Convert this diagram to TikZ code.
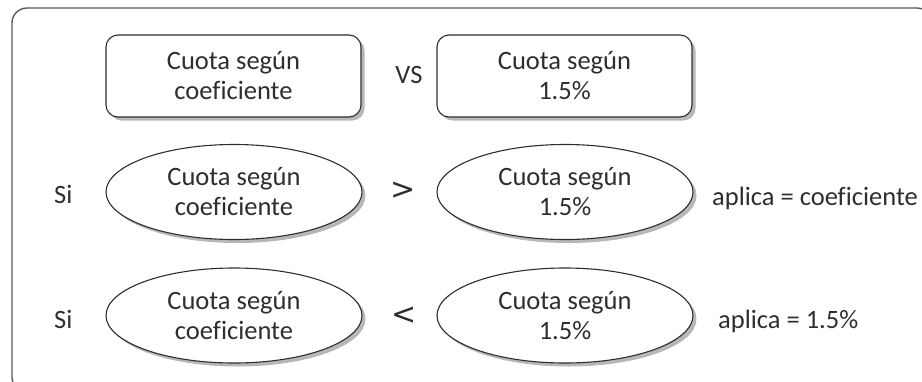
\documentclass[tikz,border=0pt]{standalone}
\usepackage{fontspec}
\setmainfont{Carlito}[Ligatures=NoCommon]
\newfontfamily\relfont{DejaVu Sans}
\usetikzlibrary{shapes.geometric,shadows}
\definecolor{ink}{HTML}{2E2E2E}
\definecolor{frame}{HTML}{5A5A5A}
\tikzset{
  x=1pt,y=-1pt,
  txt/.style={font=\fontsize{26.5}{30}\selectfont, text=ink, inner sep=0pt},
  rel/.style={font=\relfont\fontsize{30}{30}\selectfont, text=ink, inner sep=0pt},
  shad/.style={drop shadow={shadow xshift=3.5pt, shadow yshift=-3.5pt, fill=gray!80, opacity=.7}},
  rbox/.style={txt, draw=ink, line width=1.1pt, fill=white, rounded corners=12pt,
     minimum width=255pt, minimum height=82pt, align=center, shad},
  ebox/.style={txt, draw=ink, line width=1.1pt, fill=white, ellipse,
     minimum width=256pt, minimum height=95pt, align=center, shad},
}
\begin{document}
\begin{tikzpicture}
\useasboundingbox (0,0) rectangle (922,381);
\begin{scope}
\clip (0,0) rectangle (922,381);
\draw[frame, line width=1.4pt, rounded corners=15pt] (12,8) rectangle (932,392);
\end{scope}
% row 0
\node[rbox] (r1) at (233.5,76) {Cuota según\\coeficiente};
\node[rbox] (r2) at (564.5,76) {Cuota según\\1.5\%};
\node[txt, anchor=base] (vs) at (409,83) {VS};
% row 1
\node[txt, anchor=base west] (si1) at (54,203) {Si};
\node[ebox] (e1) at (234,192) {Cuota según\\coeficiente};
\node[rel] (gt) at (403,191) {>};
\node[ebox] (e2) at (565,192) {Cuota según\\1.5\%};
\node[txt, anchor=base west] (ap1) at (712,205) {aplica = coeficiente};
% row 2
\node[txt, anchor=base west] (si2) at (54,328) {Si};
\node[ebox] (e3) at (234,315.5) {Cuota según\\coeficiente};
\node[rel] (lt) at (404,316) {<};
\node[ebox] (e4) at (565,315.5) {Cuota según\\1.5\%};
\node[txt, anchor=base west] (ap2) at (718,328) {aplica = 1.5\%};
\end{tikzpicture}
\end{document}
